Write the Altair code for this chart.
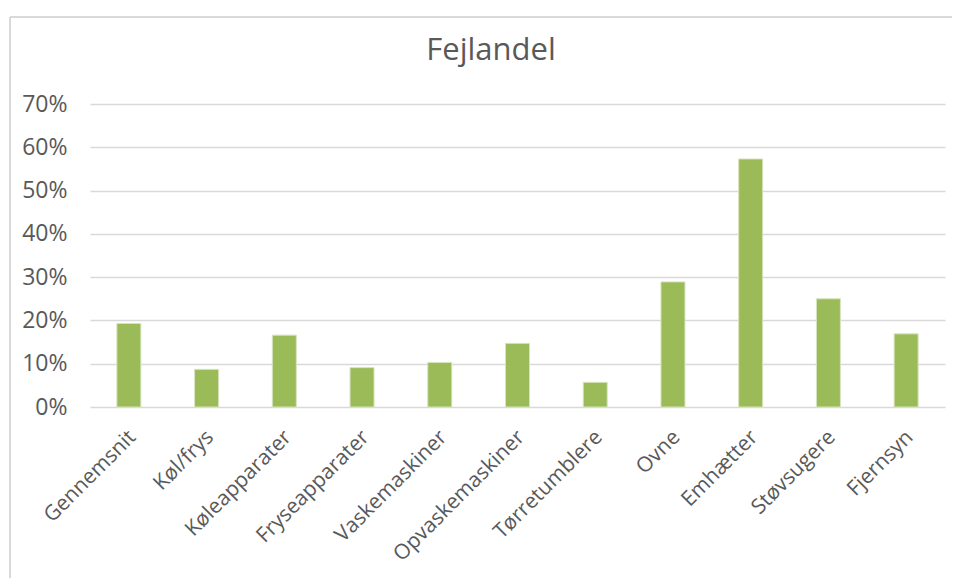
import altair as alt
import pandas as pd

categories = ["Gennemsnit", "Køl/frys", "Køleapparater", "Fryseapparater", "Vaskemaskiner",
              "Opvaskemaskiner", "Tørretumblere", "Ovne", "Emhætter", "Støvsugere", "Fjernsyn"]
values = [0.193, 0.087, 0.166, 0.091, 0.103, 0.147, 0.057, 0.289, 0.573, 0.250, 0.169]
y_ticks = [0, 0.1, 0.2, 0.3, 0.4, 0.5, 0.6, 0.7]
title_text = ["Fejlandel"]

df = pd.DataFrame({"kategori": categories, "andel": values})
df_title = pd.DataFrame({"t": title_text})

FONT = "Open Sans"
GREY = "#595959"

bars = alt.Chart(df).mark_bar(size=24, color="#9BBB59", stroke="#d7e4bd", strokeWidth=1).encode(
    x=alt.X("kategori:N", sort=categories,
            scale=alt.Scale(paddingInner=0, paddingOuter=0),
            axis=alt.Axis(title=None, labelAngle=-45, labelAlign="right", labelBaseline="top",
                          labelFont=FONT, labelFontSize=21, labelColor=GREY, labelPadding=19,
                          labelOffset=-4, labelLimit=400, ticks=False, domain=False, grid=False)),
    y=alt.Y("andel:Q", scale=alt.Scale(domain=[0, 0.7], nice=False),
            axis=alt.Axis(title=None, format=".0%", values=y_ticks, labelFont=FONT,
                          labelFontSize=23, labelColor=GREY, labelPadding=23,
                          ticks=False, domain=False, grid=True, gridColor="#d9d9d9",
                          gridWidth=1.5)),
)

title = alt.Chart(df_title).mark_text(font=FONT, fontSize=31, color=GREY, align="center",
                                      baseline="alphabetic").encode(
    text="t:N", x=alt.value(401), y=alt.value(-44))

frame_top = alt.Chart(df).mark_rule(color="#d9d9d9", strokeWidth=1.5).encode(
    x=alt.value(-80), x2=alt.value(900), y=alt.value(-87))
frame_left = alt.Chart(df).mark_rule(color="#d9d9d9", strokeWidth=1.5).encode(
    x=alt.value(-80), y=alt.value(-87), y2=alt.value(500))

chart = alt.layer(frame_top, frame_left, bars, title).properties(
    width=855, height=303,
    autosize=alt.AutoSizeParams(type="none"),
    padding={"left": 82, "top": 96, "right": 7, "bottom": 171},
).configure_view(stroke=None)

chart.save("out.html", embed_options={"renderer": "svg", "actions": False})
